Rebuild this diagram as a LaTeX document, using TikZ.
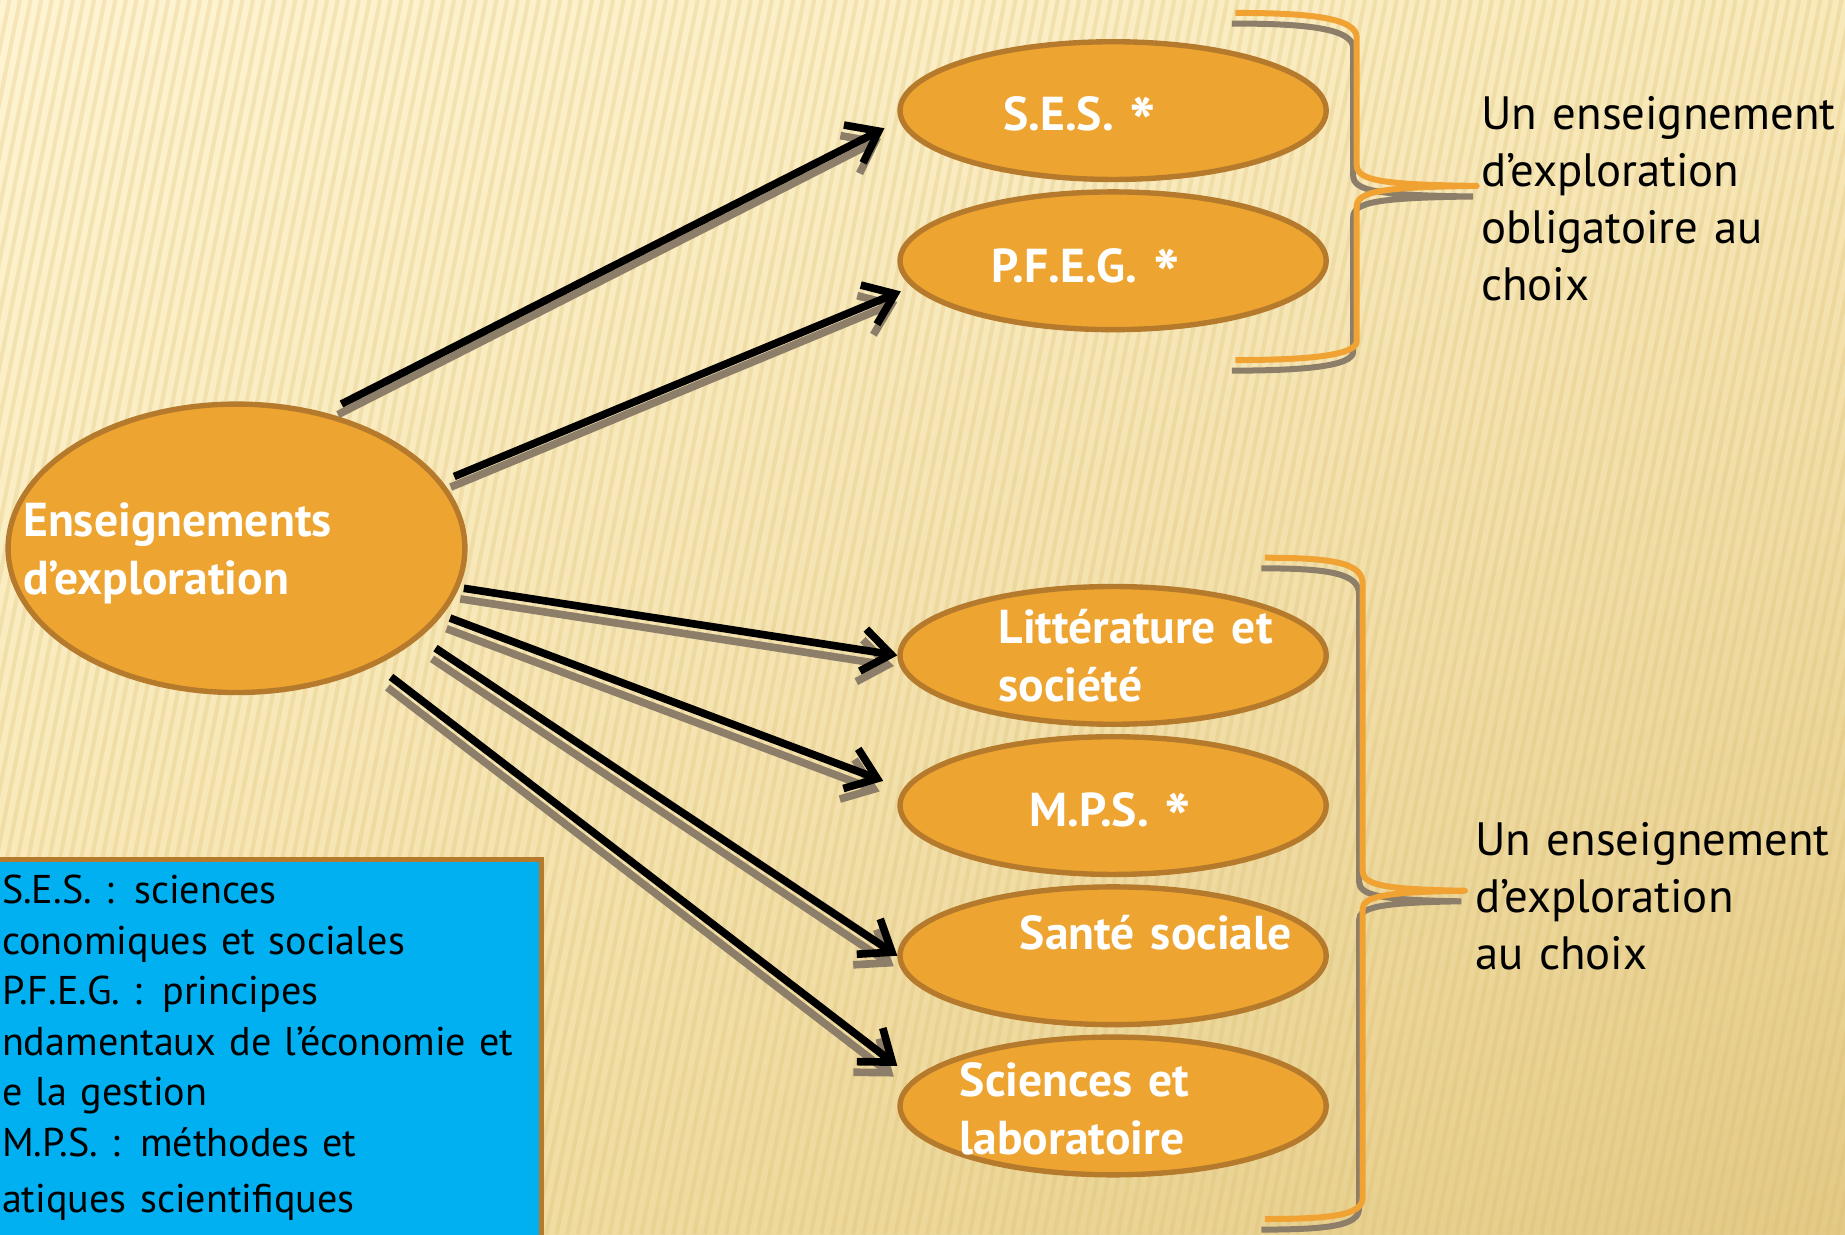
\documentclass[tikz,border=0pt]{standalone}
\usepackage{fontspec}
\setmainfont{PT Sans}
\usetikzlibrary{positioning,shapes.geometric,arrows.meta,shadings}

\definecolor{ovalfill}{HTML}{EEA430}
\definecolor{ovalline}{HTML}{B57A2B}
\definecolor{braceorange}{HTML}{F0A232}
\definecolor{shadowc}{HTML}{8C7E69}
\definecolor{infoblue}{HTML}{00B0F0}
\definecolor{bgA}{HTML}{FFF4D2}
\definecolor{bgB}{HTML}{F9EABB}
\definecolor{bgC}{HTML}{F6E5AE}
\definecolor{bgD}{HTML}{E3C984}
\definecolor{bgE}{HTML}{D9BA6E}

\newcommand{\bigast}{\raisebox{-4.4pt}{\fontsize{17}{17}\selectfont *}}

\begin{document}
\begin{tikzpicture}[x=0.01cm, y=-0.01cm,
    oval/.style={ellipse, draw=ovalline, fill=ovalfill, line width=1.3pt, inner sep=0pt,
      minimum width=3.62cm, minimum height=1.17cm},
    wlabel/.style={text=white, font=\bfseries\fontsize{11.5}{13.9}\selectfont, inner sep=0pt,
      align=left, text width=3.4cm, anchor=base west},
    note/.style={font=\fontsize{11.3}{13.8}\selectfont, inner sep=0pt, align=left,
      text width=3.4cm, anchor=base west},
    infotext/.style={font=\fontsize{9.7}{12.2}\selectfont, inner sep=0pt, align=left,
      text width=4.6cm, anchor=base west},
    infobox/.style={draw=ovalline, fill=infoblue, line width=1.2pt, inner sep=0pt},
    stripe/.style={draw=bgE, line width=0.035cm, opacity=0.25},
    shadowed/.style={preaction={draw=shadowc, line width=#1, transform canvas={shift={(-3,9)}}}},
    arr/.style={line width=1.85pt, -{Straight Barb[length=0.24cm,width=0.36cm]}, shadowed=1.85pt},
    brace/.style={draw=braceorange, line width=1.45pt, line join=round, shadowed=1.45pt}]

  \clip (0,0) rectangle (1568,1049);

  % background
  \shade[upper left=bgA, upper right=bgB, lower left=bgC, lower right=bgD]
    (0,0) rectangle (1568,1049);
  \foreach \x in {-220,-211,...,1570}
    \draw[stripe] (\x,1049) -- ({\x+210},0);

  % the main node and the six choices
  \node[oval, minimum width=3.88cm, minimum height=2.45cm] (main) at (201,466) {};
  \node[oval] (ses) at (946,94) {};
  \node[oval, below=0.06cm of ses] (pfeg) {};
  \node[oval] (litt) at (946,557) {};
  \node[oval, below=0.06cm of litt] (mps) {};
  \node[oval, below=0.06cm of mps] (sante) {};
  \node[oval, below=0.06cm of sante] (labo) {};

  % texts inside the ovals
  \node[wlabel] (maint) at (19,456) {Enseignements\\d’exploration};
  \node[wlabel] (sest) at (852,111) {S.E.S. \bigast};
  \node[wlabel] (pfegt) at (842,240) {P.F.E.G. \bigast};
  \node[wlabel] (littt) at (848,547) {Littérature et\\société};
  \node[wlabel] (mpst) at (874,702) {M.P.S. \bigast};
  \node[wlabel] (santet) at (866,807) {Santé sociale};
  \node[wlabel] (labot) at (815,932) {Sciences et\\laboratoire};

  % arrows from the main node
  \draw[arr, shorten <=0.16cm] (main.57) -- ([shift={(-11,15)}]ses.west);
  \draw[arr, shorten <=0.11cm] (main.18) -- ([shift={(3,26)}]pfeg.west);
  \draw[arr, shorten <=0.04cm] (main.350) -- (litt.west);
  \draw[arr, shorten <=0.07cm] (main.342) -- ([shift={(-12,-21)}]mps.west);
  \draw[arr, shorten <=0.16cm] (main.334) -- (sante.west);
  \draw[arr, shorten <=0.16cm] (main.320) -- ([shift={(0,-34)}]labo.west);

  % braces
  \draw[brace] (1050,11) .. controls (1112,11) and (1153,15) .. (1153,32) -- (1153,140)
    .. controls (1153,153) and (1172,157) .. (1255,158)
    .. controls (1172,159) and (1153,163) .. (1153,176) -- (1153,290)
    .. controls (1153,302) and (1112,306) .. (1050,306);
  \draw[brace] (1075,474) .. controls (1135,474) and (1158,479) .. (1158,496) -- (1158,740)
    .. controls (1158,752) and (1176,756) .. (1245,757)
    .. controls (1176,758) and (1158,762) .. (1158,773) -- (1158,1018)
    .. controls (1158,1032) and (1135,1036) .. (1075,1036);

  \node[note] (oblig) at (1258,110) {Un enseignement\\d’exploration\\obligatoire au\\choix};
  \node[note] (libre) at (1253,727) {Un enseignement\\d’exploration\\au choix};

  % legend box
  \node[infobox, anchor=north west, minimum width=4.72cm, minimum height=4cm] (info) at (-14,728) {};
  \node[infotext] (infot) at (1,768) {S.E.S. : sciences\\conomiques et sociales\\P.F.E.G. : principes\\ndamentaux de l’économie et\\e la gestion\\M.P.S. : méthodes et\\[0.05cm]atiques scientifiques};
\end{tikzpicture}
\end{document}
